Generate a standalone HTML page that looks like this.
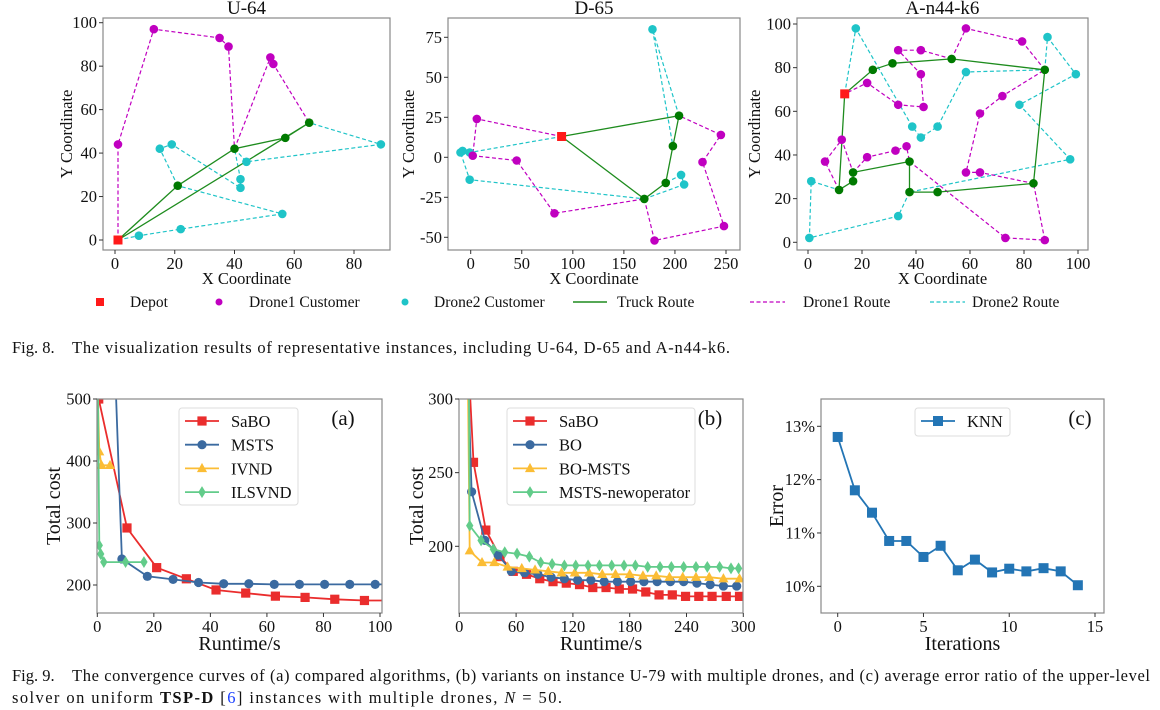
<!DOCTYPE html>
<html><head><meta charset="utf-8"><style>
html,body{margin:0;padding:0;background:#fff;}
svg{display:block;font-family:"Liberation Serif",serif;}
</style></head><body>
<svg id="fig" width="1160" height="710" viewBox="0 0 1160 710" xmlns="http://www.w3.org/2000/svg"></svg>
<script>
// ---------- Data: top route plots ----------
const u64Depot=[1,0];
const u64Truck=[[1,0],[21,25],[40,42],[57,47],[65,54],[1,0]];
const u64D1Routes=[[[1,0],[1,44],[13,97],[35,93],[38,89],[40,42]],[[40,42],[52,84],[53,81],[65,54]]];
const u64D2Routes=[[[1,0],[8,2],[22,5],[56,12],[21,25]],[[21,25],[15,42],[19,44],[42,24],[42,28],[40,42]],[[40,42],[44,36],[89,44],[65,54]]];
const d65Depot=[89,13];
const d65Truck=[[89,13],[204,26],[198,7],[191,-16],[170,-26],[89,13]];
const d65D1Routes=[[[89,13],[6,24],[2,1],[45,-2],[82,-35],[170,-26]],[[170,-26],[180,-52],[248,-43],[227,-3],[245,14],[204,26]]];
const d65D2Routes=[[[89,13],[-1,3],[-8,4],[-10,3],[-1,-14],[170,-26]],[[170,-26],[209,-17],[206,-11],[191,-16]],[[204,26],[178,80],[198,7]]];
const anDepot=[13.6,68];
const anTruck=[[13.6,68],[24,79],[31.3,82],[53.2,84],[87.7,79],[83.5,27],[48,23],[37.6,23],[37.6,37],[16.7,32],[16.7,28],[11.5,24],[13.6,68]];
const anD1Routes=[[[11.5,24],[6.3,37],[12.5,47],[16.7,32]],[[16.7,32],[21.9,39],[32.4,42],[36.5,44],[37.6,37]],[[37.6,37],[73.1,2],[87.7,1],[83.5,27]],[[83.5,27],[63.7,32],[58.5,32],[63.7,59],[72,67],[87.7,79]],[[87.7,79],[79.3,92],[58.5,98],[53.2,84]],[[53.2,84],[41.8,88],[33.4,88],[41.8,77],[42.8,62],[33.4,63],[21.9,73],[13.6,68]]];
const anD2Routes=[[[13.6,68],[17.7,98],[38.6,53],[41.8,48],[48,53],[58.5,78],[87.7,79]],[[87.7,79],[88.7,94],[99.2,77],[78.3,63],[97.1,38],[37.6,23]],[[37.6,23],[33.4,12],[0.5,2],[1.2,28],[11.5,24]]];
// ---------- Data: convergence (a) ----------
const aSaboX=[0.5,10.5,21,31.5,42,52.5,63,73.5,84,94.5];
const aSaboY=[500,292,228,210,192,187,182,180,177,175];
const aMstsX=[6.5,8.7,17.7,26.8,35.8,44.7,53.6,62.6,71.5,80.4,89.3,98.3];
const aMstsY=[520,242,214,209,204,202,202,201,201,201,201,201];
const aIvndX=[0.1,0.7,1.5,4.5];
const aIvndY=[520,415,393,393];
const aIlsX=[0.2,0.7,1.2,2.3,10,16.5];
const aIlsY=[520,264,250,237,237,237];
// ---------- Data: convergence (b) ----------
const bSaboX=[10,15,28,43,57,71,85,99,113,127,141,155,169,183,197,211,225,239,253,267,282,296];
const bSaboY=[320,257,211,193,183,181,178,176,175,174,172,172,171,171,169,167,167,166,166,166,166,166];
const bBoX=[9,13,27,41,55,69,83,97,111,125,139,153,167,181,195,209,223,237,251,265,279,293];
const bBoY=[320,237,204,194,183,182,181,179,178,177,177,176,176,176,176,176,176,176,175,174,173,173];
const bBmX=[9,11,24,37,51,66,80,94,108,122,137,151,165,180,194,208,222,236,250,264,279,296];
const bBmY=[320,197,189,189,186,185,184,183,182,182,182,181,181,181,180,180,179,179,179,179,178,178];
const bNoX=[10,11,23,36,48,61,74,86,98,111,123,136,148,161,174,186,199,212,224,237,250,262,275,287,295];
const bNoY=[320,214,204,198,196,195,193,189,188,187,187,187,187,187,187,187,186,186,186,186,186,186,186,185,185];
// ---------- Data: (c) ----------
const cIter=[0,1,2,3,4,5,6,7,8,9,10,11,12,13,14];
const cErr=[12.8,11.8,11.38,10.85,10.85,10.55,10.76,10.3,10.5,10.26,10.33,10.28,10.34,10.28,10.02];
const aXTicks=[0,20,40,60,80,100], aYTicks=[200,300,400,500];
const bXTicks=[0,60,120,180,240,300], bYTicks=[200,250,300];
const cXTicks=[0,5,10,15], cYTicks=[10,11,12,13];

const NS="http://www.w3.org/2000/svg";
const svg=document.getElementById('fig');
function el(tag,attrs,parent,text){const e=document.createElementNS(NS,tag);for(const k in attrs)e.setAttribute(k,attrs[k]);if(text!==undefined)e.textContent=text;(parent||svg).appendChild(e);return e;}
function lin(d0,d1,r0,r1){return v=>r0+(v-d0)*(r1-r0)/(d1-d0);}
let clipN=0;
function frame(f,name){
  const g=el('g',{});
  
  
  const id='clip'+(clipN++);
  const cp=el('clipPath',{id:id},svg);el('rect',{x:f.l,y:f.t,width:f.r-f.l,height:f.b-f.t},cp);
  const inner=el('g',{'clip-path':'url(#'+id+')'},g);
  return {g,inner};
}
function drawFrame(g,f){const r=el('rect',{x:f.l,y:f.t,width:f.r-f.l,height:f.b-f.t,fill:'none',stroke:'#888','stroke-width':1.2},g);
  }
function ticks(g,f,sx,sy,xt,yt,fs,fmtY){
  xt.forEach(v=>{const x=sx(v);el('line',{x1:x,x2:x,y1:f.b,y2:f.b+4,stroke:'#333'},g);
    const t=el('text',{x:x,y:f.b+19,'font-size':fs,'text-anchor':'middle',fill:'#111'},g,String(v));
    });
  yt.forEach(v=>{const y=sy(v);el('line',{x1:f.l-4,x2:f.l,y1:y,y2:y,stroke:'#333'},g);
    const t=el('text',{x:f.l-6,y:y+5.5,'font-size':fs,'text-anchor':'end',fill:'#111'},g,fmtY?fmtY(v):String(v));
    });
}
function pathOf(pts,sx,sy){return pts.map((p,i)=>(i?'L':'M')+sx(p[0]).toFixed(1)+' '+sy(p[1]).toFixed(1)).join(' ');}

// ---------- Top route panels ----------
const MAG='#c000c0', CYA='#1fc4c8', GRN='#1e8c1e', GDK='#007a00';
function routePanel(cfg){
  const f=cfg.f;const sx=lin(cfg.xd[0],cfg.xd[1],cfg.xr[0],cfg.xr[1]);const sy=lin(cfg.yd[0],cfg.yd[1],cfg.yr[0],cfg.yr[1]);
  const {g,inner}=frame(f,cfg.name);
  cfg.d2.forEach(r=>{const p=el('path',{d:pathOf(r,sx,sy),fill:'none',stroke:CYA,'stroke-width':1.2,'stroke-dasharray':'4,2.5'},inner);
    });
  cfg.d1.forEach(r=>{const p=el('path',{d:pathOf(r,sx,sy),fill:'none',stroke:MAG,'stroke-width':1.2,'stroke-dasharray':'4,2.5'},inner);
    });
  const tp=el('path',{d:pathOf(cfg.truck,sx,sy),fill:'none',stroke:GRN,'stroke-width':1.3},inner);
  
  const key=p=>p[0]+','+p[1];
  const truckSet=new Set(cfg.truck.map(key));const dep=key(cfg.depot);
  const seen=new Set();
  function dots(routes,color,nm){routes.forEach(r=>r.forEach(p=>{const k=key(p);if(truckSet.has(k)||k===dep||seen.has(k))return;seen.add(k);
    const c=el('circle',{cx:sx(p[0]),cy:sy(p[1]),r:4.3,fill:color},inner);}));}
  dots(cfg.d2,CYA,'drone2-customer');dots(cfg.d1,MAG,'drone1-customer');
  cfg.truck.forEach(p=>{const k=key(p);if(k===dep||seen.has(k))return;seen.add(k);
    const c=el('circle',{cx:sx(p[0]),cy:sy(p[1]),r:4.3,fill:GDK},inner);});
  const d=el('rect',{x:sx(cfg.depot[0])-4.5,y:sy(cfg.depot[1])-4.5,width:9,height:9,fill:'#ff1a1a'},inner);
  
  drawFrame(g,f);ticks(g,f,sx,sy,cfg.xt,cfg.yt,16.5);
  const tt=el('text',{x:(f.l+f.r)/2,y:f.t-4,'font-size':19,'text-anchor':'middle',fill:'#111'},g,cfg.title);
  
  const xl=el('text',{x:(f.l+f.r)/2,y:f.b+34,'font-size':16.5,'text-anchor':'middle',fill:'#111'},g,'X Coordinate');
  
  const yx=cfg.ylx,yy=(f.t+f.b)/2;
  const yl=el('text',{x:yx,y:yy,'font-size':16.5,'text-anchor':'middle',fill:'#111',transform:'rotate(-90 '+yx+' '+yy+')'},g,'Y Coordinate');
  
}
routePanel({name:'u64-panel',title:'U-64',f:{l:103,r:390,t:18,b:250},xd:[0,80],xr:[115,354],yd:[0,100],yr:[240,22.7],
  truck:u64Truck,d1:u64D1Routes,d2:u64D2Routes,depot:u64Depot,xt:[0,20,40,60,80],yt:[0,20,40,60,80,100],ylx:72});
routePanel({name:'d65-panel',title:'D-65',f:{l:448,r:740,t:18,b:250},xd:[0,250],xr:[470.7,726],yd:[75,-50],yr:[37.3,237.3],
  truck:d65Truck,d1:d65D1Routes,d2:d65D2Routes,depot:d65Depot,xt:[0,50,100,150,200,250],yt:[-50,-25,0,25,50,75],ylx:414});
routePanel({name:'an44-panel',title:'A-n44-k6',f:{l:797,r:1088,t:18,b:250},xd:[0,100],xr:[808,1078],yd:[0,100],yr:[242.3,24],
  truck:anTruck,d1:anD1Routes,d2:anD2Routes,depot:anDepot,xt:[0,20,40,60,80,100],yt:[0,20,40,60,80,100],ylx:760});

// ---------- Top legend ----------
(function(){
  const y=302;const g=el('g',{});
  function txt(x,s){const t=el('text',{x:x,y:y+5,'font-size':15.5,fill:'#111'},g,s);}
  el('rect',{x:96,y:y-4,width:8,height:8,fill:'#ff1a1a'},g);txt(130,'Depot');
  el('circle',{cx:219,cy:y,r:3.5,fill:MAG},g);txt(249,'Drone1 Customer');
  el('circle',{cx:405,cy:y,r:3.5,fill:CYA},g);txt(434,'Drone2 Customer');
  el('line',{x1:573,x2:607,y1:y,y2:y,stroke:GRN,'stroke-width':1.4},g);txt(617,'Truck Route');
  el('line',{x1:750,x2:785,y1:y,y2:y,stroke:MAG,'stroke-width':1.3,'stroke-dasharray':'4,2.5'},g);txt(803,'Drone1 Route');
  el('line',{x1:930,x2:965,y1:y,y2:y,stroke:CYA,'stroke-width':1.3,'stroke-dasharray':'4,2.5'},g);txt(972,'Drone2 Route');
})();

// ---------- Captions ----------
(function(){
  const fs=16.5;
  function cap(x,y,s,len,nm){const t=el('text',{x:x,y:y,'font-size':fs,fill:'#111'},svg,s);if(len){t.setAttribute('textLength',len);t.setAttribute('lengthAdjust','spacing');}
    return t;}
  cap(12,353,'Fig. 8.',0,'fig8-caption-label');
  cap(72,353,'The visualization results of representative instances, including U-64, D-65 and A-n44-k6.',658,'fig8-caption');
  cap(12,681,'Fig. 9.',0,'fig9-caption-label');
  cap(72,681,'The convergence curves of (a) compared algorithms, (b) variants on instance U-79 with multiple drones, and (c) average error ratio of the upper-level',1078,'fig9-caption-line1');
  const l2=el('text',{x:12,y:703,'font-size':fs,fill:'#111',textLength:550,lengthAdjust:'spacing'},svg);
  
  el('tspan',{},l2,'solver on uniform ');el('tspan',{'font-weight':'bold'},l2,'TSP-D');el('tspan',{},l2,' [');
  el('tspan',{fill:'#1a3fff'},l2,'6');el('tspan',{},l2,'] instances with multiple drones, ');
  el('tspan',{'font-style':'italic'},l2,'N');el('tspan',{},l2,' = 50.');
})();

// ---------- Convergence panels ----------
function marker(g,type,x,y,color,s){
  let m;
  if(type==='s')m=el('rect',{x:x-s,y:y-s,width:2*s,height:2*s,fill:color},g);
  else if(type==='o')m=el('circle',{cx:x,cy:y,r:s,fill:color},g);
  else if(type==='^')m=el('polygon',{points:`${x},${y-s*1.2} ${x-s*1.1},${y+s*0.8} ${x+s*1.1},${y+s*0.8}`,fill:color},g);
  else m=el('polygon',{points:`${x},${y-s*1.3} ${x-s*0.8},${y} ${x},${y+s*1.3} ${x+s*0.8},${y}`,fill:color},g);
  return m;
}
function convPanel(cfg){
  const f=cfg.f;const sx=lin(cfg.xd[0],cfg.xd[1],cfg.xr[0],cfg.xr[1]);const sy=lin(cfg.yd[0],cfg.yd[1],cfg.yr[0],cfg.yr[1]);
  const {g,inner}=frame(f,cfg.name);
  cfg.series.forEach(s=>{
    const pts=s.x.map((v,i)=>[v,s.y[i]]);
    const p=el('path',{d:pathOf(pts,sx,sy),fill:'none',stroke:s.c,'stroke-width':1.8},inner);
    
    pts.forEach(q=>{const m=marker(inner,s.m,sx(q[0]),sy(q[1]),s.c,s.ms||4.6);});
    if(s.tail){const last=pts[pts.length-1];el('line',{x1:sx(last[0]),y1:sy(last[1]),x2:f.r,y2:sy(last[1]),stroke:s.c,'stroke-width':1.8},inner);}
  });
  drawFrame(g,f);ticks(g,f,sx,sy,cfg.xt,cfg.yt,16.5,cfg.fmtY);
  const xl=el('text',{x:(f.l+f.r)/2,y:f.b+37,'font-size':20,'text-anchor':'middle',fill:'#111'},g,cfg.xlab);
  
  const yx=cfg.ylx,yy=(f.t+f.b)/2;
  const yl=el('text',{x:yx,y:yy,'font-size':20,'text-anchor':'middle',fill:'#111',transform:'rotate(-90 '+yx+' '+yy+')'},g,cfg.ylab);
  
  const pl=el('text',{x:cfg.plx,y:f.t+26,'font-size':21,'text-anchor':'middle',fill:'#111'},g,cfg.pl);
  
  const L=cfg.leg;const lg=el('g',{},g);
  el('rect',{x:L.x,y:L.y,width:L.w,height:L.h,rx:3,fill:'#fff',stroke:'#ddd'},lg);
  cfg.series.forEach((s,i)=>{const yy2=L.y+13+i*23.7;
    el('line',{x1:L.x+6,x2:L.x+40,y1:yy2,y2:yy2,stroke:s.c,'stroke-width':1.8},lg);marker(lg,s.m,L.x+23,yy2,s.c,s.ms||4.6);
    const t=el('text',{x:L.x+52,y:yy2+6,'font-size':16.5,fill:'#111'},lg,s.label);});
}
const RED='#ea2d2d',BLU='#3b6aa0',YEL='#fbbd35',GRE='#62cc8a',KNN='#2375b5';
convPanel({name:'panel-a',f:{l:97,r:382,t:399,b:613},xd:[0,100],xr:[97.3,380],yd:[500,200],yr:[399,585],xt:aXTicks,yt:aYTicks,
  xlab:'Runtime/s',ylab:'Total cost',ylx:60,pl:'(a)',plx:343,leg:{x:179,y:408,w:119,h:97},
  series:[{nm:'sabo',label:'SaBO',x:aSaboX,y:aSaboY,c:RED,m:'s',tail:1},{nm:'msts',label:'MSTS',x:aMstsX,y:aMstsY,c:BLU,m:'o',tail:1},
    {nm:'ivnd',label:'IVND',x:aIvndX,y:aIvndY,c:YEL,m:'^'},{nm:'ilsvnd',label:'ILSVND',x:aIlsX,y:aIlsY,c:GRE,m:'d'}]});
convPanel({name:'panel-b',f:{l:459,r:743,t:399,b:613},xd:[0,300],xr:[459.3,743.3],yd:[300,200],yr:[399,546.3],xt:bXTicks,yt:bYTicks,
  xlab:'Runtime/s',ylab:'Total cost',ylx:423,pl:'(b)',plx:710,leg:{x:507,y:408,w:188,h:97},
  series:[{nm:'sabo',label:'SaBO',x:bSaboX,y:bSaboY,c:RED,m:'s'},{nm:'bo',label:'BO',x:bBoX,y:bBoY,c:BLU,m:'o'},
    {nm:'bo-msts',label:'BO-MSTS',x:bBmX,y:bBmY,c:YEL,m:'^'},{nm:'msts-newoperator',label:'MSTS-newoperator',x:bNoX,y:bNoY,c:GRE,m:'d'}]});
convPanel({name:'panel-c',f:{l:821,r:1104,t:399,b:613},xd:[0,15],xr:[837.7,1095],yd:[13,10],yr:[426.3,586.3],xt:cXTicks,yt:cYTicks,
  fmtY:v=>v+'%',xlab:'Iterations',ylab:'Error',ylx:783,pl:'(c)',plx:1080,leg:{x:915,y:408,w:95,h:28},
  series:[{nm:'knn',label:'KNN',x:cIter,y:cErr,c:KNN,m:'s',ms:5}]});
</script>
</body></html>
